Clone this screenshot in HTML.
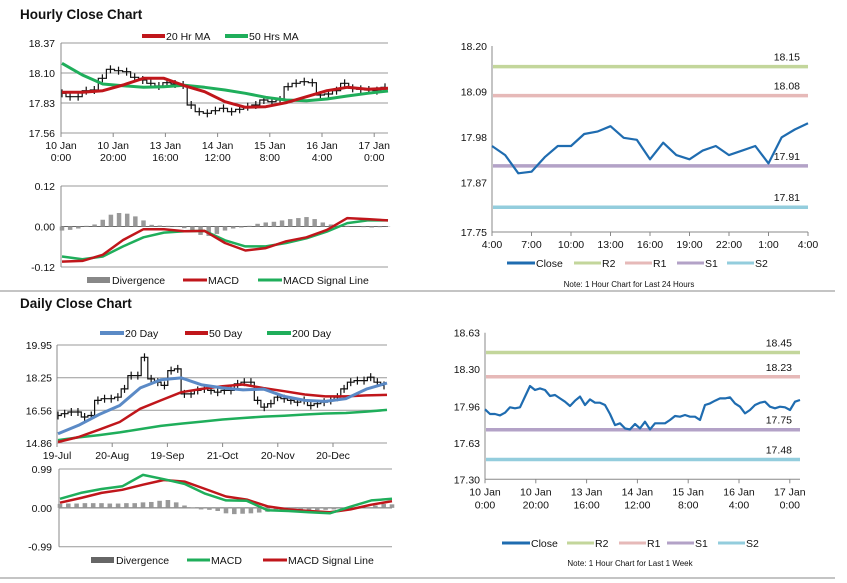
<!DOCTYPE html>
<html><head><meta charset="utf-8">
<style>
body{margin:0;background:#fff;}
svg{display:block;font-family:"Liberation Sans",Arial,sans-serif;}
.t{font-size:10.5px;fill:#111;}
.s{font-size:8px;fill:#111;}
.h{font-size:13.5px;font-weight:bold;fill:#111;}
</style></head>
<body>
<svg id="root" width="847" height="583" viewBox="0 0 847 583">
<text class="h" x="20" y="19">Hourly Close Chart</text>
<text class="h" x="20" y="308">Daily Close Chart</text>
<line x1="0" y1="291" x2="835" y2="291" stroke="#888"/>
<line x1="0" y1="578" x2="835" y2="578" stroke="#888"/>
<g id="g"></g>
</svg>
<script>
// ---------- Hourly panel data ----------
const hPrice=[17.917,17.887,17.887,17.941,17.947,18.052,18.133,18.121,18.112,18.061,18.037,18.007,17.983,18.013,18.001,17.992,17.812,17.752,17.737,17.761,17.782,17.752,17.773,17.797,17.812,17.857,17.842,17.857,17.977,18.007,18.022,18.013,17.902,17.911,17.941,18.007,17.962,17.953,17.947,17.941,17.971];
const hMA20=[17.926,17.926,17.941,17.992,18.052,18.052,17.986,17.932,17.842,17.791,17.797,17.833,17.887,17.941,17.971,17.953,17.962];
const hMA50=[18.187,18.082,18.001,17.986,17.971,17.977,17.989,17.971,17.947,17.917,17.881,17.857,17.851,17.866,17.893,17.917,17.938];
const hTicksY=["17.56","17.83","18.10","18.37"];
const hTicksX=[["10 Jan","0:00"],["10 Jan","20:00"],["13 Jan","16:00"],["14 Jan","12:00"],["15 Jan","8:00"],["16 Jan","4:00"],["17 Jan","0:00"]];
const hMacd=[-0.104,-0.102,-0.084,-0.040,-0.008,-0.008,-0.014,-0.013,-0.049,-0.071,-0.064,-0.044,-0.032,-0.010,0.025,0.022,0.018];
const hSignal=[-0.089,-0.097,-0.089,-0.059,-0.032,-0.018,-0.014,-0.013,-0.041,-0.059,-0.059,-0.049,-0.035,-0.015,0.010,0.018,0.018];
const hDiv=[-0.012,-0.010,-0.006,0.002,0.006,0.020,0.035,0.040,0.038,0.030,0.018,0.005,0.003,0.002,0.001,-0.005,-0.015,-0.025,-0.028,-0.022,-0.012,-0.006,-0.003,0.002,0.008,0.012,0.014,0.018,0.022,0.025,0.028,0.022,0.012,0.006,0.003,0.002,0.000,-0.002,-0.003,-0.002,-0.001];
const hMacdTicks=["-0.12","0.00","0.12"];
// ---------- Hourly 24h pivot panel ----------
const c24=[17.958,17.936,17.892,17.896,17.931,17.958,17.958,17.987,17.993,18.006,17.978,17.973,17.926,17.966,17.936,17.926,17.947,17.958,17.936,17.947,17.958,17.916,17.979,17.998,18.013];
const c24Levels=[18.15,18.08,17.91,17.81];
const c24TicksY=["17.75","17.87","17.98","18.09","18.20"];
const c24TicksX=["4:00","7:00","10:00","13:00","16:00","19:00","22:00","1:00","4:00"];
// ---------- Daily panel ----------
const dPrice=[16.29,16.38,16.47,16.47,16.21,16.29,17.07,17.16,17.16,17.24,17.67,18.36,18.36,19.31,18.19,18.02,17.85,18.62,18.71,17.41,17.41,17.59,17.67,17.59,17.50,17.59,17.59,17.93,18.02,18.02,17.07,16.72,16.90,17.24,17.16,17.07,16.98,17.07,16.81,16.90,16.98,17.07,17.24,17.67,18.02,18.10,18.10,18.28,18.02,17.85];
const dMA20=[15.34,15.78,16.34,16.81,17.72,18.14,18.24,17.88,17.72,17.62,17.66,17.28,17.07,17.02,17.16,17.66,17.97];
const dMA50=[14.91,15.17,15.55,15.95,16.64,17.07,17.50,17.67,17.81,17.90,17.71,17.55,17.38,17.28,17.28,17.33,17.36];
const dMA200=[15.01,15.15,15.27,15.41,15.58,15.75,15.87,15.97,16.08,16.16,16.23,16.28,16.34,16.39,16.42,16.49,16.58];
const dTicksY=["14.86","16.56","18.25","19.95"];
const dTicksX=["19-Jul","20-Aug","19-Sep","21-Oct","20-Nov","20-Dec"];
const dMacd=[0.23,0.38,0.48,0.55,0.84,0.73,0.61,0.36,0.19,0.18,-0.06,-0.08,-0.11,-0.14,0.03,0.19,0.23];
const dSignal=[0.13,0.25,0.38,0.46,0.59,0.71,0.67,0.48,0.29,0.21,0.04,-0.04,-0.08,-0.11,-0.04,0.08,0.17];
const dDiv=[0.10,0.11,0.11,0.12,0.12,0.12,0.11,0.11,0.12,0.12,0.14,0.15,0.18,0.20,0.14,0.06,0.01,-0.04,-0.05,-0.08,-0.14,-0.16,-0.15,-0.14,-0.12,-0.10,-0.06,-0.03,-0.02,-0.08,-0.10,-0.06,-0.05,-0.04,-0.04,-0.03,-0.02,0.00,0.06,0.10,0.09];
const dMacdTicks=["-0.99","0.00","0.99"];
// ---------- Weekly pivot panel ----------
const cWk=[17.935,17.892,17.892,17.880,17.904,17.953,17.944,17.953,18.050,18.146,18.110,18.125,18.110,18.056,18.065,18.034,18.004,17.965,18.013,18.050,17.974,18.025,17.995,17.995,17.974,17.892,17.792,17.808,17.762,17.753,17.802,17.762,17.823,17.753,17.808,17.808,17.808,17.838,17.874,17.868,17.883,17.868,17.868,17.838,17.974,17.989,18.013,18.034,18.034,18.044,17.989,17.959,17.898,17.929,17.974,17.995,18.004,17.959,17.944,17.959,17.953,17.929,18.004,18.019];
const cWkLevels=[18.45,18.23,17.75,17.48];
const cWkTicksY=["17.30","17.63","17.96","18.30","18.63"];
const cWkTicksX=[["10 Jan","0:00"],["10 Jan","20:00"],["13 Jan","16:00"],["14 Jan","12:00"],["15 Jan","8:00"],["16 Jan","4:00"],["17 Jan","0:00"]];
const levelNames=["R2","R1","S1","S2"];

const G=document.getElementById('g');
const NS='http://www.w3.org/2000/svg';
function mk(tag,at,txt){const e=document.createElementNS(NS,tag);for(const k in at)e.setAttribute(k,at[k]);if(txt!==undefined)e.textContent=txt;G.appendChild(e);return e;}
function lin(d0,d1,r0,r1){return v=>r0+(v-d0)/(d1-d0)*(r1-r0);}
function poly(vals,xs,ys,color,w,name){
  const pts=vals.map((v,i)=>xs(i).toFixed(1)+','+ys(v).toFixed(1)).join(' ');
  const e=mk('polyline',{points:pts,fill:'none',stroke:color,'stroke-width':w,'stroke-linejoin':'round'});
  
  
}
function txt(x,y,s,cls,anchor,name){const e=mk('text',{x:x,y:y,class:cls,'text-anchor':anchor||'start'},s);return e;}
function ln(x1,y1,x2,y2,c,w,name){const e=mk('line',{x1:x1,y1:y1,x2:x2,y2:y2,stroke:c,'stroke-width':w});}
function legend(x1,x2,y,color,label,name,w){ln(x1,y,x2,y,color,w||3,name+'-swatch');txt(x2+1,y+4,label,'t','start',name);}
function bars(vals,xs,ys,name){
  // step trace for dense bar look
  let d='M'+xs(0).toFixed(1)+','+ys(vals[0]).toFixed(1);
  for(let i=1;i<vals.length;i++){d+='H'+xs(i-0.5).toFixed(1)+'V'+ys(vals[i]).toFixed(1)+'H'+xs(i).toFixed(1);}
  const p=mk('path',{d:d,fill:'none',stroke:'#111','stroke-width':1.2});
  
  
  for(let i=0;i<vals.length;i++){
    const x=xs(i);
    const e=mk('line',{x1:x,y1:ys(vals[i])+4,x2:x,y2:ys(vals[i])-4,stroke:'#111','stroke-width':1.2});
    
    
  }
}
function hist(vals,xs,ys,name){
  const w=Math.max(1,(xs(1)-xs(0))*0.55);
  vals.forEach((v,i)=>{
    const e=mk('line',{x1:xs(i),y1:ys(0),x2:xs(i),y2:ys(v),stroke:'#999','stroke-width':w});
    
    
  });
}

// ===== Panel 1: hourly price =====
(function(){
  const X0=61,X1=388,Y0=133,Y1=43;
  const ys=lin(17.56,18.37,Y0,Y1);
  hTicksY.forEach(t=>{const y=ys(+t);ln(X0,y,X1,y,'#999',1,'hourly-gridline');txt(55,y+4,t,'t','end','hourly-y-tick');});
  ln(X0,Y1,X0,Y0,'#888',1,'hourly-y-axis');
  hTicksX.forEach((t,i)=>{const x=X0+i*52.2;ln(x,Y0,x,Y0+4,'#888',1,'hourly-x-tickmark');txt(x,Y0+16,t[0],'t','middle','hourly-x-tick');txt(x,Y0+28,t[1],'t','middle','hourly-x-tick');});
  const xb=lin(0,hPrice.length-1,X0+1,X1-3);
  bars(hPrice,xb,ys,'hourly-price-bar');
  const xm=lin(0,hMA20.length-1,X0+1,X1);
  poly(hMA50,xm,ys,'#1fae5b',3,'hourly-ma50-line');
  poly(hMA20,xm,ys,'#c0161b',3,'hourly-ma20-line');
  legend(142,165,36,'#c0161b','20 Hr MA','legend-20hr-ma',4);
  legend(225,248,36,'#1fae5b','50 Hrs MA','legend-50hrs-ma',4);
})();
// ===== Panel 1b: hourly MACD =====
(function(){
  const X0=61,X1=388;
  const ys=lin(-0.12,0.12,267,186);
  hMacdTicks.forEach(t=>{const y=ys(+t);ln(X0,y,X1,y,+t===0?'#666':'#999',1,'hourly-macd-gridline');txt(55,y+4,t,'t','end','hourly-macd-y-tick');});
  ln(X0,186,X0,267,'#888',1,'hourly-macd-y-axis');
  hist(hDiv,lin(0,hDiv.length-1,X0+1,X1),ys,'hourly-divergence-bar');
  const xm=lin(0,hMacd.length-1,X0+1,X1);
  poly(hSignal,xm,ys,'#1fae5b',2.5,'hourly-signal-line');
  poly(hMacd,xm,ys,'#c0161b',2.5,'hourly-macd-line');
  ln(87,280,110,280,'#888',6,'legend-divergence-swatch');txt(112,284,'Divergence','t','start','legend-divergence');
  legend(183,207,280,'#c0161b','MACD','legend-macd');
  legend(258,282,280,'#1fae5b','MACD Signal Line','legend-macd-signal');
})();
// pivot panel helper
function pivot(vals,levels,ticksY,ticksX,X0,X1,Y0,Y1,lo,hi,pref,lab){
  const ys=lin(lo,hi,Y0,Y1);
  ticksY.forEach(t=>txt(X0-5,ys(+t)+4,t,'t','end',pref+'-y-tick'));
  ln(X0,Y1,X0,Y0,'#888',1,pref+'-y-axis');ln(X0,Y0,X1,Y0,'#888',1,pref+'-x-axis');
  const cols=['#c3d69b','#e6b9b8','#b3a2c7','#93cddd'];
  levels.forEach((v,i)=>{ln(X0+1,ys(v),X1,ys(v),cols[i],3.5,pref+'-level-'+levelNames[i].toLowerCase());txt(X1-8,ys(v)-6,v.toFixed(2),'t','end',pref+'-level-label');});
  ticksX.forEach((t,i)=>{const x=lab.tx(i);ln(x,Y0,x,Y0+4,'#888',1,pref+'-x-tickmark');
    if(Array.isArray(t)){txt(x,Y0+16,t[0],'t','middle',pref+'-x-tick');txt(x,Y0+29,t[1],'t','middle',pref+'-x-tick');}
    else txt(x,Y0+16,t,'t','middle',pref+'-x-tick');});
  poly(vals,lin(0,vals.length-1,X0,lab.xe),ys,'#1f6cb0',2.2,pref+'-close-line');
  const L=lab.leg;
  legend(L[0],L[0]+28,lab.ly,'#1f6cb0','Close',pref+'-legend-close');
  levelNames.forEach((nm,i)=>legend(L[i+1],L[i+1]+27,lab.ly,cols[i],nm,pref+'-legend-'+nm.toLowerCase()));
  txt(lab.nx,lab.ny,lab.note,'s','middle',pref+'-note');
}
pivot(c24,c24Levels,c24TicksY,c24TicksX,492,808,232,46,17.75,18.20,'hourly24',
  {tx:i=>492+i*39.5,xe:808,leg:[507,574,625,677,727],ly:263,nx:629,ny:287,note:'Note: 1 Hour Chart for Last 24 Hours'});
// ===== Daily price =====
(function(){
  const X0=57,X1=387,Y0=443,Y1=345;
  const ys=lin(14.86,19.95,Y0,Y1);
  dTicksY.forEach(t=>{const y=ys(+t);ln(X0,y,X1,y,'#999',1,'daily-gridline');txt(52,y+4,t,'t','end','daily-y-tick');});
  ln(X0,Y1,X0,Y0,'#888',1,'daily-y-axis');
  dTicksX.forEach((t,i)=>{const x=X0+i*55.2;ln(x,Y0,x,Y0+4,'#888',1,'daily-x-tickmark');txt(x,Y0+16,t,'t','middle','daily-x-tick');});
  bars(dPrice,lin(0,dPrice.length-1,X0+1,X1-3),ys,'daily-price-bar');
  const xm=lin(0,dMA20.length-1,X0+1,X1);
  poly(dMA200,xm,ys,'#1fae5b',2.5,'daily-ma200-line');
  poly(dMA50,xm,ys,'#c0161b',2.5,'daily-ma50-line');
  poly(dMA20,xm,ys,'#5b8ac6',3,'daily-ma20-line');
  legend(100,124,333,'#5b8ac6','20 Day','legend-20-day',4);
  legend(185,208,333,'#c0161b','50 Day','legend-50-day',4);
  legend(267,291,333,'#1fae5b','200 Day','legend-200-day',4);
})();
// ===== Daily MACD =====
(function(){
  const X0=59,X1=392;
  const ys=lin(-0.99,0.99,546.7,469);
  dMacdTicks.forEach(t=>{const y=ys(+t);ln(X0,y,X1,y,+t===0?'#666':'#999',1,'daily-macd-gridline');txt(52,y+4,t,'t','end','daily-macd-y-tick');});
  ln(X0,469,X0,546.7,'#888',1,'daily-macd-y-axis');
  hist(dDiv,lin(0,dDiv.length-1,X0+1,X1),ys,'daily-divergence-bar');
  const xm=lin(0,dMacd.length-1,X0+1,X1);
  poly(dSignal,xm,ys,'#c0161b',2.5,'daily-signal-line');
  poly(dMacd,xm,ys,'#1fae5b',2.5,'daily-macd-line');
  ln(91,560,114,560,'#666',6,'daily-legend-divergence-swatch');txt(116,564,'Divergence','t','start','daily-legend-divergence');
  legend(187,210,560,'#1fae5b','MACD','daily-legend-macd');
  legend(263,287,560,'#c0161b','MACD Signal Line','daily-legend-macd-signal');
})();
pivot(cWk,cWkLevels,cWkTicksY,cWkTicksX,485,800,479.3,332.7,17.30,18.63,'weekly',
  {tx:i=>485+i*50.8,xe:800,leg:[502,567,619,667,718],ly:543,nx:630,ny:566,note:'Note: 1 Hour Chart for Last 1 Week'});
</script>
</body></html>
